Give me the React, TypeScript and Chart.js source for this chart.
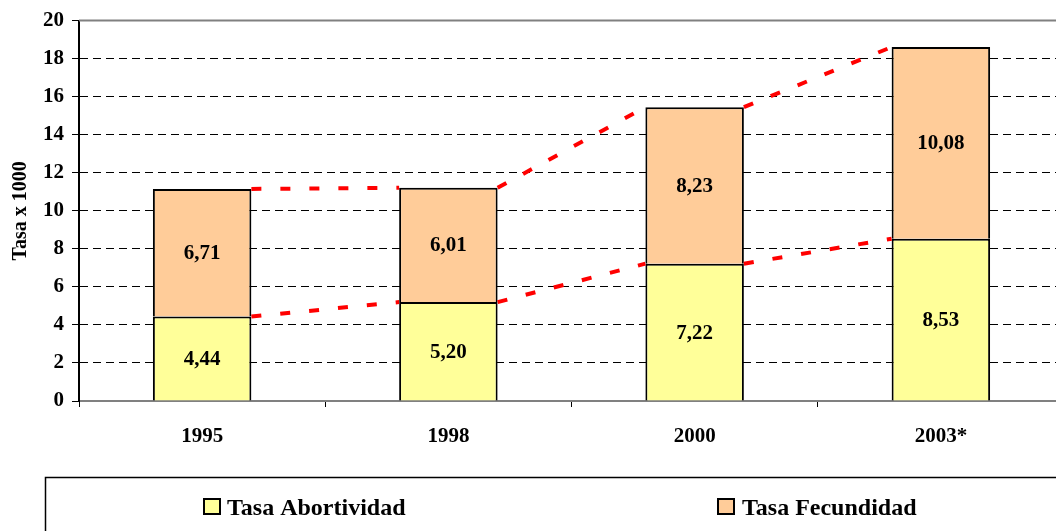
import React, { useEffect, useRef } from "react";
import { Chart, registerables } from "chart.js";

Chart.register(...registerables);

const categories = ["1995", "1998", "2000", "2003*"];
const abortividad = [4.44, 5.2, 7.22, 8.53];
const fecundidad = [6.71, 6.01, 8.23, 10.08];
const seriesNames = ["Tasa Abortividad", "Tasa Fecundidad"];
const yMin = 0;
const yMax = 20;
const yStep = 2;
const yTitle = "Tasa x 1000";

const FONT = '"Liberation Serif", "Times New Roman", serif';

const fmt = (v: number) => v.toFixed(2).replace(".", ",");

const connectorPlugin = {
  id: "connectors",
  afterDatasetsDraw(chart: any) {
    const ctx = chart.ctx;
    ctx.save();
    ctx.strokeStyle = "#FF0000";
    ctx.lineWidth = 4;
    ctx.setLineDash([10, 19]);
    chart.data.datasets.forEach((_: any, d: number) => {
      const meta = chart.getDatasetMeta(d);
      for (let i = 0; i < meta.data.length - 1; i++) {
        const a = meta.data[i].getProps(["x", "y", "width"], true);
        const b = meta.data[i + 1].getProps(["x", "y", "width"], true);
        ctx.beginPath();
        ctx.moveTo(a.x + a.width / 2, a.y);
        ctx.lineTo(b.x - b.width / 2, b.y);
        ctx.stroke();
      }
    });
    ctx.restore();
  },
};

const labelPlugin = {
  id: "valueLabels",
  afterDatasetsDraw(chart: any) {
    const ctx = chart.ctx;
    ctx.save();
    ctx.fillStyle = "#000";
    ctx.font = `bold 21px ${FONT}`;
    ctx.textAlign = "center";
    ctx.textBaseline = "middle";
    chart.data.datasets.forEach((ds: any, d: number) => {
      const meta = chart.getDatasetMeta(d);
      meta.data.forEach((bar: any, i: number) => {
        const p = bar.getProps(["x", "y", "base"], true);
        ctx.fillText(fmt(ds.data[i]), p.x, (p.y + p.base) / 2 + 1);
      });
    });
    ctx.restore();
  },
};

const framePlugin = {
  id: "frame",
  beforeDatasetsDraw(chart: any) {
    const { ctx, chartArea } = chart;
    ctx.save();
    ctx.strokeStyle = "#808080";
    ctx.lineWidth = 2;
    ctx.beginPath();
    ctx.moveTo(chartArea.left, chartArea.top);
    ctx.lineTo(chartArea.right, chartArea.top);
    ctx.stroke();
    ctx.restore();
  },
  afterDraw(chart: any) {
    const { ctx } = chart;
    ctx.save();
    ctx.strokeStyle = "#000";
    ctx.lineWidth = 1.5;
    ctx.strokeRect(45.5, 477.5, 2000, 200);
    const items = [
      { x: 204, tx: 227, idx: 0 },
      { x: 718, tx: 742, idx: 1 },
    ];
    ctx.font = `bold 24px ${FONT}`;
    ctx.textBaseline = "alphabetic";
    ctx.textAlign = "left";
    items.forEach((it) => {
      const ds = chart.data.datasets[it.idx];
      ctx.fillStyle = ds.backgroundColor;
      ctx.fillRect(it.x, 499, 16, 15);
      ctx.lineWidth = 2;
      ctx.strokeRect(it.x, 499, 16, 15);
      ctx.fillStyle = "#000";
      ctx.fillText(ds.label, it.tx, 515);
    });
    ctx.restore();
  },
};

export default function App() {
  const ref = useRef<HTMLCanvasElement | null>(null);

  useEffect(() => {
    if (!ref.current) return;
    const chart = new Chart(ref.current, {
      type: "bar",
      data: {
        labels: categories,
        datasets: [
          {
            label: seriesNames[0],
            data: abortividad,
            backgroundColor: "#FFFF99",
            borderColor: "#000",
            borderWidth: 2,
            borderSkipped: "bottom",
            barPercentage: 0.4,
            categoryPercentage: 1,
          },
          {
            label: seriesNames[1],
            data: fecundidad,
            backgroundColor: "#FFCC99",
            borderColor: "#000",
            borderWidth: 2,
            borderSkipped: "bottom",
            barPercentage: 0.4,
            categoryPercentage: 1,
          },
        ],
      },
      options: {
        animation: false,
        responsive: true,
        maintainAspectRatio: false,
        layout: { padding: { top: 20, left: 0, right: 0, bottom: 0 } },
        plugins: {
          legend: { display: false },
          tooltip: { enabled: false },
        },
        scales: {
          x: {
            stacked: true,
            afterFit: (s: any) => {
              s.height = 130;
            },
            grid: {
              offset: true,
              drawOnChartArea: false,
              tickLength: 6,
              color: "#000",
              tickColor: "#000",
              lineWidth: 1,
            },
            border: { display: true, color: "#808080", width: 2 },
            ticks: {
              color: "#000",
              padding: 17,
              font: { family: FONT, size: 21, weight: "bold" },
            },
          },
          y: {
            stacked: true,
            min: yMin,
            max: yMax,
            afterFit: (s: any) => {
              s.width = 79;
            },
            grid: {
              color: (c: any) =>
                c.tick && (c.tick.value === yMin || c.tick.value === yMax) ? "rgba(0,0,0,0)" : "#000",
              tickColor: "#000",
              tickLength: 7,
              lineWidth: 1,
            },
            border: { display: true, color: "#000", width: 2, dash: [8, 5] },
            ticks: {
              stepSize: yStep,
              color: "#000",
              padding: 8,
              font: { family: FONT, size: 21, weight: "bold" },
            },
            title: {
              display: true,
              text: yTitle,
              color: "#000",
              padding: { top: 9, bottom: 0 },
              font: { family: FONT, size: 20, weight: "bold" },
            },
          },
        },
      },
      plugins: [framePlugin, connectorPlugin, labelPlugin],
    });
    return () => chart.destroy();
  }, []);

  return (
    <div
      style={{
        position: "absolute",
        left: 0,
        top: 0,
        width: 1056,
        height: 531,
        overflow: "hidden",
        background: "#fff",
      }}
    >
      <div style={{ position: "relative", width: 1064, height: 531 }}>
        <canvas ref={ref} />
      </div>
    </div>
  );
}
